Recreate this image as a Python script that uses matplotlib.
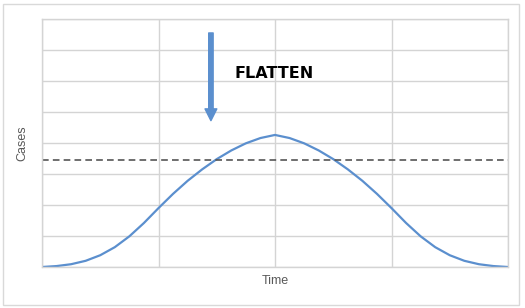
import numpy as np
import matplotlib.pyplot as plt
from matplotlib.patches import Rectangle

# curve (time in grid columns, cases in grid rows)
time = [0, 0.125, 0.25, 0.375, 0.5, 0.625, 0.75, 0.875, 1.0, 1.125, 1.25, 1.375,
        1.5, 1.625, 1.75, 1.875, 2.0, 2.125, 2.25, 2.375, 2.5, 2.625, 2.75, 2.875,
        3.0, 3.125, 3.25, 3.375, 3.5, 3.625, 3.75, 3.875, 4.0]
cases = [0.0, 0.03, 0.09, 0.20, 0.38, 0.64, 0.99, 1.42, 1.90, 2.36, 2.78, 3.15,
         3.48, 3.76, 3.99, 4.16, 4.26, 4.16, 3.99, 3.76, 3.48, 3.15, 2.78, 2.36,
         1.90, 1.42, 0.99, 0.64, 0.38, 0.20, 0.09, 0.03, 0.0]
capacity = 3.45
arrow_x = 1.45
arrow_from = 7.55
arrow_to = 4.72
label = "FLATTEN"

blue = "#5b8fce"
grid = "#d4d4d4"

fig = plt.figure(figsize=(5.25, 3.08), dpi=100)
fig.patch.set_facecolor("white")
fig.patches.append(Rectangle((3 / 525, 3 / 308), 516 / 525, 301 / 308,
                             transform=fig.transFigure, fill=False,
                             edgecolor="#d9d9d9", linewidth=1))

ax = fig.add_axes([42 / 525, 41 / 308, 466 / 525, 248 / 308])
ax.set_xlim(0, 4)
ax.set_ylim(0, 8)
ax.set_xticks(range(0, 5))
ax.set_yticks(range(0, 9))
ax.tick_params(length=0, labelbottom=False, labelleft=False)
ax.grid(True, color=grid, linewidth=1)
for s in ax.spines.values():
    s.set_color(grid)
    s.set_linewidth(1)

ax.plot(time, cases, color=blue, linewidth=1.6, solid_capstyle="round")
ax.axhline(capacity, color="#555555", linewidth=1.2, linestyle=(0, (4, 2.5)))

ax.annotate("", xy=(arrow_x, arrow_to), xytext=(arrow_x, arrow_from),
            arrowprops=dict(arrowstyle="simple,head_width=0.85,head_length=0.85,tail_width=0.32",
                            color=blue, shrinkA=0, shrinkB=0))
ax.text(1.65, 6.25, label, fontsize=11.5, fontweight="bold", color="black",
        family="DejaVu Sans", va="center", ha="left")

ax.set_xlabel("Time", fontsize=9, color="#595959", labelpad=6, family="Liberation Sans")
ax.set_ylabel("Cases", fontsize=9, color="#595959", labelpad=10, family="Liberation Sans")

fig.savefig("out.png", dpi=100)
